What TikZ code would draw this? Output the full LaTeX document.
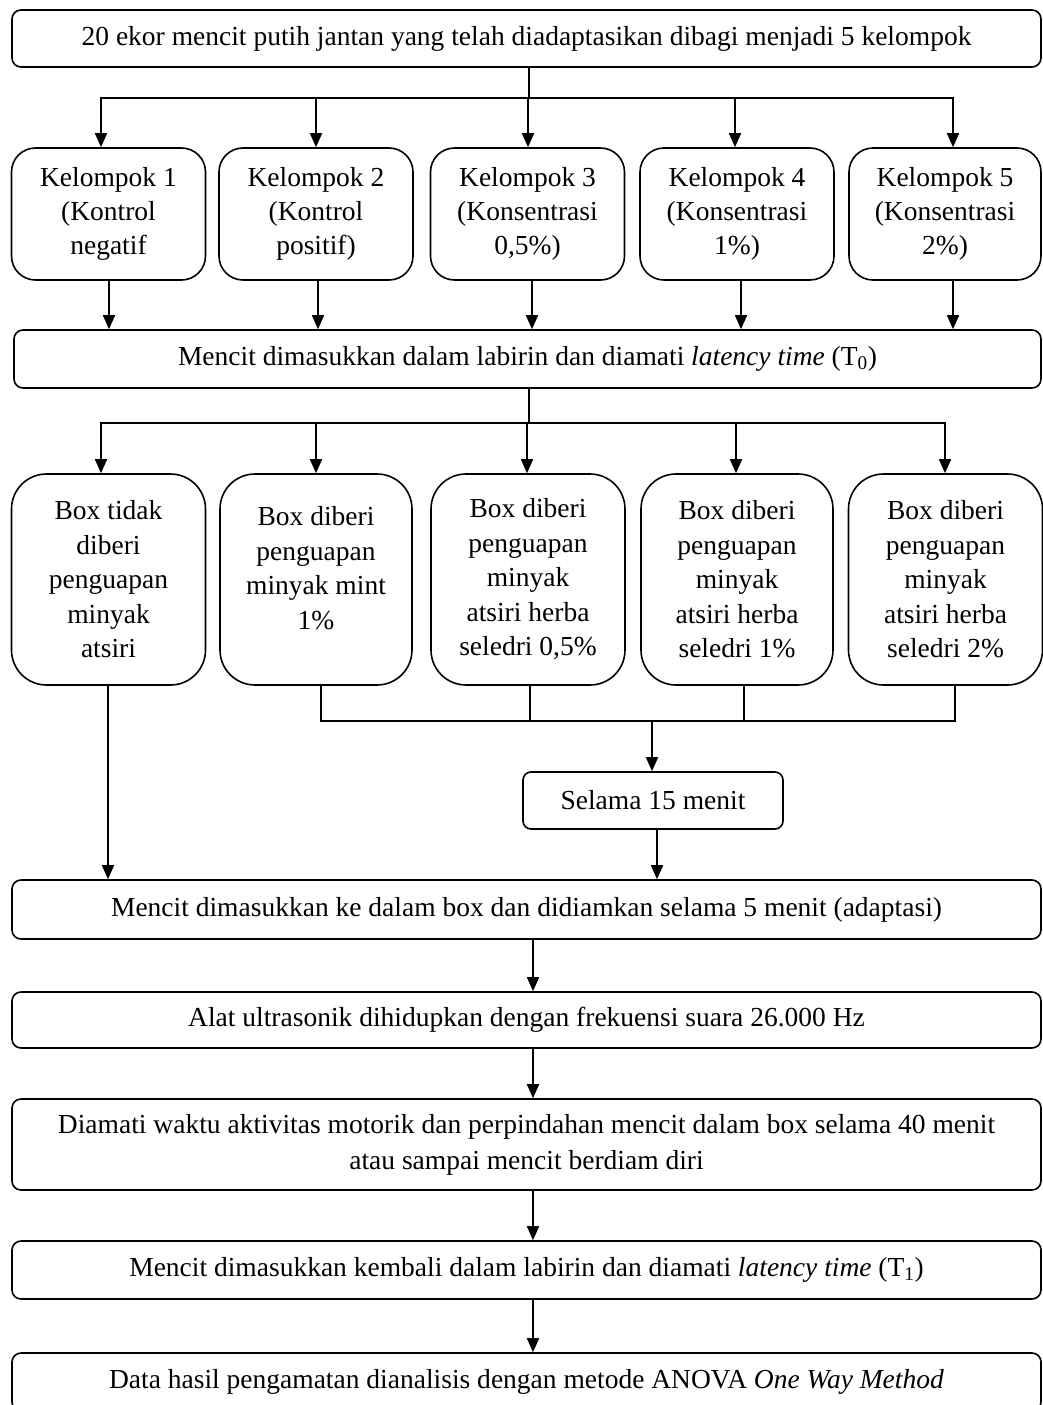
\documentclass[tikz,border=0pt]{standalone}
\usepackage{fontspec}
\setmainfont{Liberation Serif}
\usetikzlibrary{arrows.meta,calc}
\begin{document}
\begin{tikzpicture}[x=1pt,y=-1pt,
  base/.style={draw, line width=1.6pt, inner sep=0pt, align=center, font=\fontsize{27.5}{34}\selectfont},
  wbox/.style={base, rounded corners=9pt, minimum width=1029pt, minimum height=57pt},
  kbox/.style={base, rounded corners=24pt, minimum width=194pt, minimum height=132pt},
  pbox/.style={base, rounded corners=35pt, minimum width=194pt, minimum height=211pt},
  sbox/.style={base, rounded corners=8pt, minimum width=260pt, minimum height=57pt},
  txt/.style={inner sep=0pt, align=center, font=\fontsize{27.5}{34.5}\selectfont},
  ln/.style={line width=1.6pt, line cap=rect},
  arr/.style={line width=1.6pt, -{Triangle[length=14pt,width=12pt]}}]
\useasboundingbox (0,0) rectangle (1043,1405);
\clip (0,0) rectangle (1043,1405);

% nodes
\node[wbox] (top) at (526.5,38.5) {20 ekor mencit putih jantan yang telah diadaptasikan dibagi menjadi 5 kelompok};
\node[kbox] (k1) at (108.5,214) {Kelompok 1\\(Kontrol\\negatif};
\node[kbox] (k2) at (316,214) {Kelompok 2\\(Kontrol\\positif)};
\node[kbox] (k3) at (527.5,214) {Kelompok 3\\(Konsentrasi\\0,5\%)};
\node[kbox] (k4) at (737,214) {Kelompok 4\\(Konsentrasi\\1\%)};
\node[kbox, minimum width=192pt] (k5) at (945,214) {Kelompok 5\\(Konsentrasi\\2\%)};
\node[wbox, minimum width=1027pt, minimum height=58pt] (t0) at (527.5,359) {Mencit dimasukkan dalam labirin dan diamati \textit{latency time} (T\textsubscript{0})};

\node[pbox, font=\fontsize{27.5}{34.5}\selectfont] (p1) at (108.5,579.5) {Box tidak\\diberi\\penguapan\\minyak\\atsiri};
\node[pbox, minimum width=192pt] (p2) at (316,579.5) {};
\node[txt] (p2t) at (316,568) {Box diberi\\penguapan\\minyak mint\\1\%};
\node[pbox, font=\fontsize{27.5}{34.5}\selectfont] (p3) at (528,579.5) {Box diberi\\penguapan\\minyak\\atsiri herba\\seledri 0,5\%};
\node[pbox, minimum width=192pt, font=\fontsize{27.5}{34.5}\selectfont] (p4) at (737,579.5) {Box diberi\\penguapan\\minyak\\atsiri herba\\seledri 1\%};
\node[pbox, font=\fontsize{27.5}{34.5}\selectfont] (p5) at (945.5,579.5) {Box diberi\\penguapan\\minyak\\atsiri herba\\seledri 2\%};

\node[sbox] (s15) at (653,800.5) {Selama 15 menit};
\node[wbox, minimum height=59pt] (ad) at (526.5,909.5) {Mencit dimasukkan ke dalam box dan didiamkan selama 5 menit (adaptasi)};
\node[wbox, minimum height=56pt] (us) at (526.5,1020) {Alat ultrasonik dihidupkan dengan frekuensi suara 26.000 Hz};
\node[wbox, minimum height=91pt, font=\fontsize{27.5}{36}\selectfont] (dm) at (526.5,1144.5) {Diamati waktu aktivitas motorik dan perpindahan mencit dalam box selama 40 menit\\atau sampai mencit berdiam diri};
\node[wbox, minimum height=58pt] (t1) at (526.5,1270) {Mencit dimasukkan kembali dalam labirin dan diamati \textit{latency time} (T\textsubscript{1})};
\node[wbox, minimum height=58pt] (an) at (526.5,1382) {Data hasil pengamatan dianalisis dengan metode ANOVA \textit{One Way Method}};

% first split
\coordinate (j1) at (529,98);
\coordinate (a1) at (101,98);
\coordinate (a2) at (316,98);
\coordinate (a3) at (528,98);
\coordinate (a4) at (735,98);
\coordinate (a5) at (953,98);
\draw[ln] (top.south -| j1) -- (j1);
\draw[ln] (a1) -- (a5);
\draw[arr] (a1) -- (k1.north -| a1);
\draw[arr] (a2) -- (k2.north -| a2);
\draw[arr] (a3) -- (k3.north -| a3);
\draw[arr] (a4) -- (k4.north -| a4);
\draw[arr] (a5) -- (k5.north -| a5);

% groups to T0
\coordinate (b1) at (109,0);
\coordinate (b2) at (318,0);
\coordinate (b3) at (532,0);
\coordinate (b4) at (741,0);
\coordinate (b5) at (953,0);
\draw[arr] (k1.south -| b1) -- (t0.north -| b1);
\draw[arr] (k2.south -| b2) -- (t0.north -| b2);
\draw[arr] (k3.south -| b3) -- (t0.north -| b3);
\draw[arr] (k4.south -| b4) -- (t0.north -| b4);
\draw[arr] (k5.south -| b5) -- (t0.north -| b5);

% second split
\coordinate (j2) at (529,423);
\coordinate (c1) at (101,423);
\coordinate (c2) at (316,423);
\coordinate (c3) at (527,423);
\coordinate (c4) at (736,423);
\coordinate (c5) at (945,423);
\draw[ln] (t0.south -| j2) -- (j2);
\draw[ln] (c1) -- (c5);
\draw[arr] (c1) -- (p1.north -| c1);
\draw[arr] (c2) -- (p2.north -| c2);
\draw[arr] (c3) -- (p3.north -| c3);
\draw[arr] (c4) -- (p4.north -| c4);
\draw[arr] (c5) -- (p5.north -| c5);

% merge
\coordinate (d1) at (108,0);
\coordinate (d2) at (321,721);
\coordinate (d3) at (530,721);
\coordinate (d4) at (744,721);
\coordinate (d5) at (955,721);
\coordinate (m) at (652,721);
\coordinate (e) at (657,0);
\draw[arr] (p1.south -| d1) -- (ad.north -| d1);
\draw[ln] (p2.south -| d2) -- (d2);
\draw[ln] (p3.south -| d3) -- (d3);
\draw[ln] (p4.south -| d4) -- (d4);
\draw[ln] (p5.south -| d5) -- (d5);
\draw[ln] (d2) -- (d5);
\draw[arr] (m) -- (s15.north -| m);
\draw[arr] (s15.south -| e) -- (ad.north -| e);

% main chain
\coordinate (f) at (533,0);
\draw[arr] (ad.south -| f) -- (us.north -| f);
\draw[arr] (us.south -| f) -- (dm.north -| f);
\draw[arr] (dm.south -| f) -- (t1.north -| f);
\draw[arr] (t1.south -| f) -- (an.north -| f);
\end{tikzpicture}
\end{document}
